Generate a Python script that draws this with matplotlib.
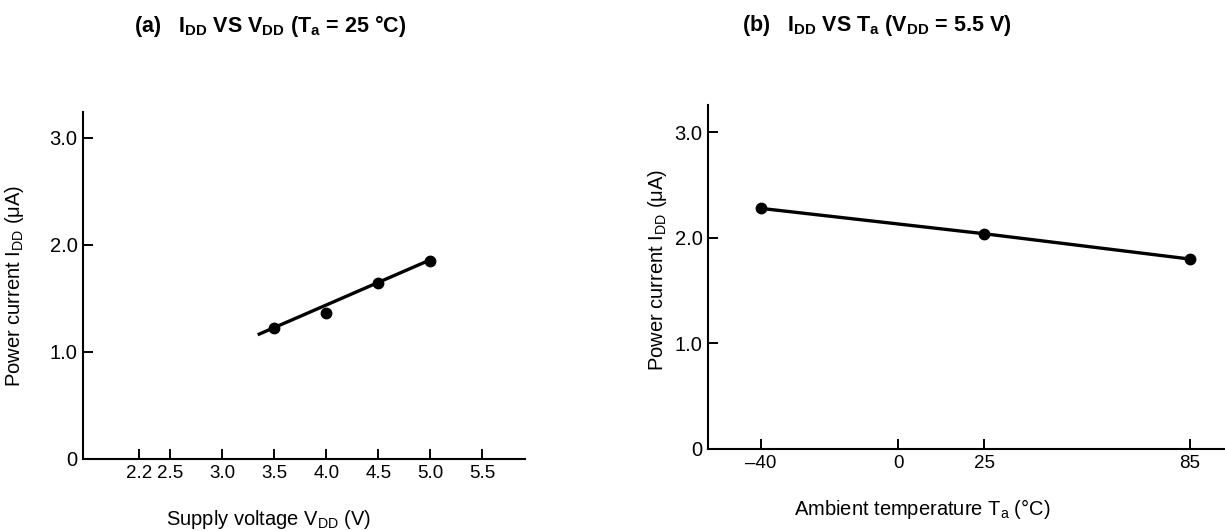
import numpy as np
import matplotlib
matplotlib.use("Agg")
import matplotlib.pyplot as plt

plt.rcParams['font.family'] = ['Liberation Sans', 'DejaVu Sans']
plt.rcParams['mathtext.fontset'] = 'custom'
plt.rcParams['mathtext.rm'] = 'Liberation Sans'
plt.rcParams['mathtext.it'] = 'Liberation Sans'
plt.rcParams['mathtext.bf'] = 'Liberation Sans:bold'

# (a) IDD vs VDD, Ta = 25 C
vdd = [3.5, 4.0, 4.5, 5.0]
idd_a = [1.22, 1.36, 1.64, 1.85]
fit_v = [3.34, 5.0]
fit_i = [1.16, 1.86]
vdd_ticks = [2.2, 2.5, 3.0, 3.5, 4.0, 4.5, 5.0, 5.5]

# (b) IDD vs Ta, VDD = 5.5 V
ta = [-40, 25, 85]
idd_b = [2.28, 2.04, 1.80]
ta_ticks = [-40, 0, 25, 85]
ta_labels = ['\u201340', '0', '25', '85']

i_ticks = [0, 1.0, 2.0, 3.0]
i_labels = ['0', '1.0', '2.0', '3.0']

fig = plt.figure(figsize=(12.25, 5.31), dpi=100)
W, H = 1225, 531

def px_axes(x0, x1, ytop, ybot):
    return fig.add_axes([x0 / W, 1 - ybot / H, (x1 - x0) / W, (ybot - ytop) / H])

def style(ax):
    for s in ['top', 'right']:
        ax.spines[s].set_visible(False)
    for s in ['left', 'bottom']:
        ax.spines[s].set_linewidth(1.5)
    ax.tick_params(direction='in', length=7, width=1.4, labelsize=14.5, pad=4)
    ax.tick_params(axis='x', labelsize=13.5)
    ax.set_yticks(i_ticks)
    ax.set_yticklabels(i_labels)
    ax.patch.set_alpha(0)

# left panel
ax1 = px_axes(83, 525, 112, 459)
style(ax1)
ax1.plot(fit_v, fit_i, color='black', lw=2.4, solid_capstyle='butt')
ax1.plot(vdd, idd_a, 'o', color='black', ms=7.5)
ax1.set_xlim(1.66, 5.91)
ax1.set_ylim(0, 3.24)
ax1.set_xticks(vdd_ticks)
ax1.set_xticklabels([f'{v:.1f}' for v in vdd_ticks])
ax1.set_xlabel('Supply voltage V$_{\\mathrm{DD}}$ (V)', fontsize=14.5)
ax1.xaxis.set_label_coords(0.419, -0.14)
ax1.set_ylabel('Power current I$_{\\mathrm{DD}}$ (\u03bcA)', fontsize=14.5)
ax1.yaxis.set_label_coords(-0.128, 0.5)

# right panel
ax2 = px_axes(708, 1225, 105, 449)
style(ax2)
ax2.plot(ta, idd_b, '-o', color='black', lw=2.4, ms=7.5)
ax2.set_xlim(-55.5, 95.2)
ax2.set_ylim(0, 3.26)
ax2.set_xticks(ta_ticks)
ax2.set_xticklabels(ta_labels)
ax2.set_xlabel('Ambient temperature T$_{\\mathrm{a}}$ (\u00b0C)', fontsize=14.5)
ax2.xaxis.set_label_coords(0.414, -0.14)
ax2.set_ylabel('Power current I$_{\\mathrm{DD}}$ (\u03bcA)', fontsize=14.5)
ax2.yaxis.set_label_coords(-0.075, 0.52)

# panel titles
fig.text(270 / W, 1 - 26 / H,
         '(a)   $\\mathbf{I_{DD}}$ VS $\\mathbf{V_{DD}}$ (T$_\\mathbf{a}$ = 25 \u00b0C)',
         ha='center', va='center', fontsize=15.5, fontweight='bold')
fig.text(877 / W, 1 - 26 / H,
         '(b)   $\\mathbf{I_{DD}}$ VS T$_\\mathbf{a}$ (V$_\\mathbf{DD}$ = 5.5 V)',
         ha='center', va='center', fontsize=15.5, fontweight='bold')

fig.savefig('out.png', dpi=100)
